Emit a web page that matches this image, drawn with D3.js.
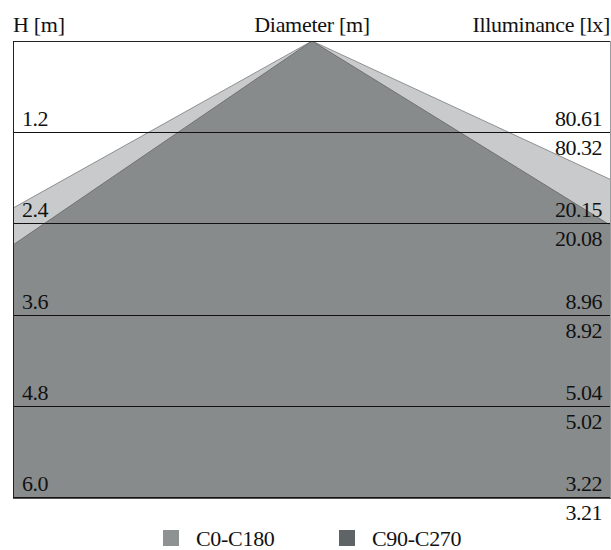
<!DOCTYPE html>
<html><head><meta charset="utf-8">
<script src="https://cdn.jsdelivr.net/npm/d3@7"></script>
<style>html,body{margin:0;padding:0;background:#fff;}svg{display:block;}</style>
</head><body>
<svg id="c" width="611" height="550"></svg>
<script>
// Data
const heights = [1.2, 2.4, 3.6, 4.8, 6.0];
const heightLabels = ["1.2", "2.4", "3.6", "4.8", "6.0"];
const illumC0C180 = ["80.61", "20.15", "8.96", "5.04", "3.22"];
const illumC90C270 = ["80.32", "20.08", "8.92", "5.02", "3.21"];
const series = ["C0-C180", "C90-C270"];
// half beam angles (deg) to the left / right of the nadir
const halfAngleLeft = [60.8, 55.7];
const halfAngleRight = [65.1, 58.3];
const titles = ["H [m]", "Diameter [m]", "Illuminance [lx]"];

const fillColors = ["#c8cacb", "#878b8c"];
const strokeColors = ["#8e9192", "#6e7273"];
const legendColors = ["#8f9293", "#5f6467"];

const svg = d3.select("#c");
const L = 13, R = 610, T = 41, B = 497;
const cx = (L + R) / 2 + 0.5;
const y = d3.scaleLinear().domain([0, 6]).range([T, B]);
const pxPerM = (B - T) / 6;
const x = d3.scaleLinear().domain([-1, 1]).range([cx - pxPerM, cx + pxPerM]);
const font = "'Liberation Serif','Times New Roman',serif";
const fs = 22;

svg.append("defs").append("clipPath").attr("id", "clip")
  .append("rect").attr("x", L).attr("y", T).attr("width", R - L).attr("height", B - T);

const g = svg.append("g").attr("clip-path", "url(#clip)");
const hMax = d3.max(heights);
series.forEach((s, i) => {
  const tl = Math.tan(halfAngleLeft[i] * Math.PI / 180);
  const tr = Math.tan(halfAngleRight[i] * Math.PI / 180);
  const pts = [[0, 0], [-tl * hMax * 2, hMax * 2], [tr * hMax * 2, hMax * 2]];
  g.append("path")
    .attr("d", d3.line().x(d => x(d[0])).y(d => y(d[1]))(pts) + "Z")
    .attr("fill", fillColors[i])
    .attr("stroke", strokeColors[i])
    .attr("stroke-width", 1);
});

// horizontal lines
svg.selectAll("line.h").data(heights).enter().append("line")
  .attr("x1", L).attr("x2", R)
  .attr("y1", d => Math.round(y(d)) + 0.5).attr("y2", d => Math.round(y(d)) + 0.5)
  .attr("stroke", "#111").attr("stroke-width", 1);

// frame
svg.append("line").attr("x1", L + 0.5).attr("x2", L + 0.5).attr("y1", T).attr("y2", B + 1)
  .attr("stroke", "#222");
svg.append("line").attr("x1", L).attr("x2", R + 1).attr("y1", T + 0.5).attr("y2", T + 0.5)
  .attr("stroke", "#222");
svg.append("line").attr("x1", R + 0.5).attr("x2", R + 0.5).attr("y1", T).attr("y2", B + 1)
  .attr("stroke", "#9a9d9e");
svg.append("line").attr("x1", L).attr("x2", R + 1).attr("y1", B + 1.5).attr("y2", B + 1.5)
  .attr("stroke", "#555");

// titles
const tAnchor = ["start", "middle", "end"];
const tX = [L, cx, R];
titles.forEach((t, i) => {
  svg.append("text").attr("x", tX[i]).attr("y", 32)
    .attr("text-anchor", tAnchor[i]).attr("font-family", font).attr("font-size", fs)
    .attr("letter-spacing", -0.3)
    .attr("fill", "#111").text(t);
});

// height labels
svg.selectAll("text.hl").data(heights).enter().append("text")
  .attr("x", L + 9).attr("y", d => y(d) - 6)
  .attr("font-family", font).attr("font-size", fs).attr("letter-spacing", -0.5).attr("fill", "#111")
  .text((d, i) => heightLabels[i]);
svg.selectAll("text.ia").data(heights).enter().append("text")
  .attr("x", R - 8).attr("y", d => y(d) - 6).attr("text-anchor", "end")
  .attr("font-family", font).attr("font-size", fs).attr("letter-spacing", -0.5).attr("fill", "#111")
  .text((d, i) => illumC0C180[i]);
svg.selectAll("text.ib").data(heights).enter().append("text")
  .attr("x", R - 8).attr("y", d => y(d) + 23).attr("text-anchor", "end")
  .attr("font-family", font).attr("font-size", fs).attr("letter-spacing", -0.5).attr("fill", "#111")
  .text((d, i) => illumC90C270[i]);

// legend
const legX = [163, 339];
series.forEach((s, i) => {
  svg.append("rect").attr("x", legX[i]).attr("y", 530).attr("width", 16).attr("height", 16)
    .attr("fill", legendColors[i]);
  svg.append("text").attr("x", legX[i] + 33).attr("y", 546)
    .attr("font-family", font).attr("font-size", fs).attr("letter-spacing", -0.3)
    .attr("fill", "#111").text(s);
});
</script>
</body></html>
